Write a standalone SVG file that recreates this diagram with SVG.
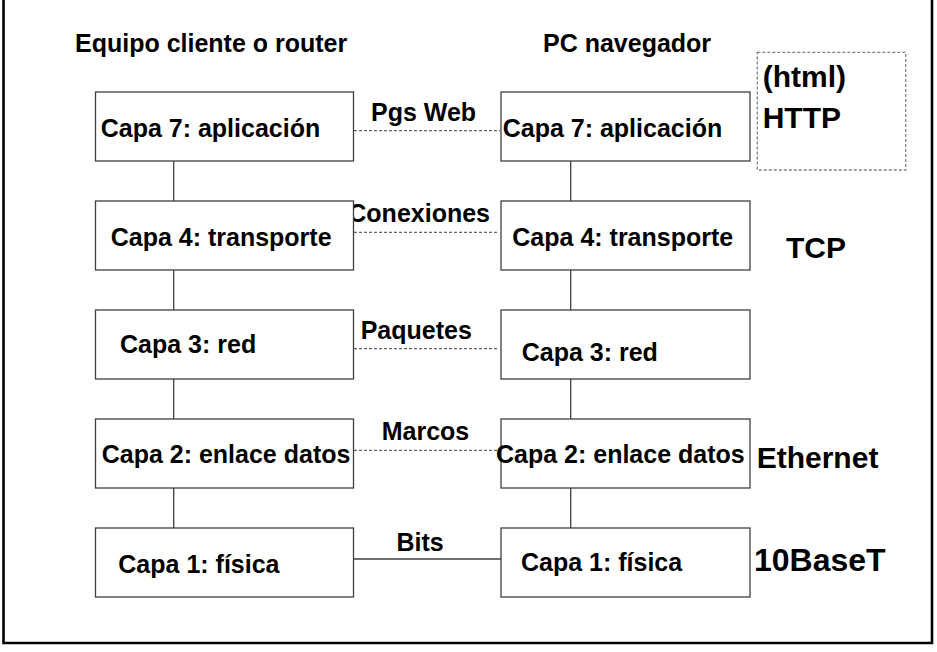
<svg xmlns="http://www.w3.org/2000/svg" width="937" height="652" viewBox="0 0 937 652">
<style>
  .bg { fill: #ffffff; }
  .frame { fill: none; stroke: #000000; stroke-width: 2.6; }
  .box { fill: #ffffff; stroke: #404040; stroke-width: 1.3; }
  .t { font-family: "Liberation Sans", Arial, sans-serif; font-weight: bold; fill: #000000; }
  .s25 { font-size: 25px; }
  .s30 { font-size: 30px; }
  .s32 { font-size: 32px; }
  .solid { stroke: #404040; stroke-width: 1.3; fill: none; }
  .dash { stroke: #404040; stroke-width: 1; stroke-dasharray: 3 2; fill: none; }
  .dbox { fill: none; stroke: #808080; stroke-width: 1.3; stroke-dasharray: 3 2; }
</style>
<rect class="bg" x="0" y="0" width="937" height="652"/>
<path class="frame" d="M3.5,-5 V643 H932 V-5"/>

<g id="headers">
  <text class="t s25" x="75" y="52">Equipo cliente o router</text>
  <text class="t s25" x="543" y="52">PC navegador</text>
</g>

<g id="connectors">
  <line class="solid" x1="173.7" y1="161" x2="173.7" y2="201"/>
  <line class="solid" x1="173.7" y1="270" x2="173.7" y2="310"/>
  <line class="solid" x1="173.7" y1="379" x2="173.7" y2="419"/>
  <line class="solid" x1="173.7" y1="488" x2="173.7" y2="528"/>
  <line class="solid" x1="570.7" y1="161" x2="570.7" y2="201"/>
  <line class="solid" x1="570.7" y1="270" x2="570.7" y2="310"/>
  <line class="solid" x1="570.7" y1="379" x2="570.7" y2="419"/>
  <line class="solid" x1="570.7" y1="488" x2="570.7" y2="528"/>
  <line class="dash" x1="349" y1="130.7" x2="500" y2="130.7"/>
  <line class="dash" x1="349" y1="232.3" x2="498" y2="232.3"/>
  <line class="dash" x1="349" y1="348.7" x2="498" y2="348.7"/>
  <line class="dash" x1="349" y1="450.3" x2="497" y2="450.3"/>
  <line class="solid" x1="353.5" y1="559" x2="501" y2="559"/>
  <text class="t s25" x="371" y="120.7">Pgs Web</text>
  <text class="t s25" x="348.3" y="221.7">Conexiones</text>
  <text class="t s25" x="360.7" y="339.3">Paquetes</text>
  <text class="t s25" x="381.7" y="440">Marcos</text>
  <text class="t s25" x="396.4" y="551">Bits</text>
</g>

<g id="l7">
  <rect class="box" x="95.5" y="92" width="258" height="69"/>
  <text class="t s25" x="100.7" y="136.7">Capa 7: aplicación</text>
</g>
<g id="l4">
  <rect class="box" x="95.5" y="201" width="258" height="69"/>
  <text class="t s25" x="110.7" y="245.7">Capa 4: transporte</text>
</g>
<g id="l3">
  <rect class="box" x="95.5" y="310" width="258" height="69"/>
  <text class="t s25" x="120" y="352.7">Capa 3: red</text>
</g>
<g id="l2">
  <rect class="box" x="95.5" y="419" width="258" height="69"/>
  <text class="t s25" x="101.7" y="463.3">Capa 2: enlace datos</text>
</g>
<g id="l1">
  <rect class="box" x="95.5" y="528" width="258" height="69"/>
  <text class="t s25" x="118.3" y="573.3">Capa 1: física</text>
</g>

<g id="r7">
  <rect class="box" x="501" y="92" width="249" height="69"/>
  <text class="t s25" x="502.7" y="136.7">Capa 7: aplicación</text>
</g>
<g id="r4">
  <rect class="box" x="501" y="201" width="249" height="69"/>
  <text class="t s25" x="512.3" y="245.7">Capa 4: transporte</text>
</g>
<g id="r3">
  <rect class="box" x="501" y="310" width="249" height="69"/>
  <text class="t s25" x="521.7" y="361">Capa 3: red</text>
</g>
<g id="r2">
  <rect class="box" x="501" y="419" width="249" height="69"/>
  <text class="t s25" x="496" y="463.3">Capa 2: enlace datos</text>
</g>
<g id="r1">
  <rect class="box" x="501" y="528" width="249" height="69"/>
  <text class="t s25" x="521" y="570.7">Capa 1: física</text>
</g>

<g id="http">
  <rect class="dbox" x="757.3" y="52.3" width="148.4" height="117.7"/>
  <text class="t s30" x="762.7" y="87">(html)</text>
  <text class="t s30" x="762.7" y="128">HTTP</text>
</g>
<g id="tcp">
  <text class="t s30" x="786" y="258.3">TCP</text>
</g>
<g id="ethernet">
  <text class="t s30" x="756.7" y="468.3">Ethernet</text>
</g>
<g id="baset">
  <text class="t s32" x="754" y="570.7">10BaseT</text>
</g>
</svg>
